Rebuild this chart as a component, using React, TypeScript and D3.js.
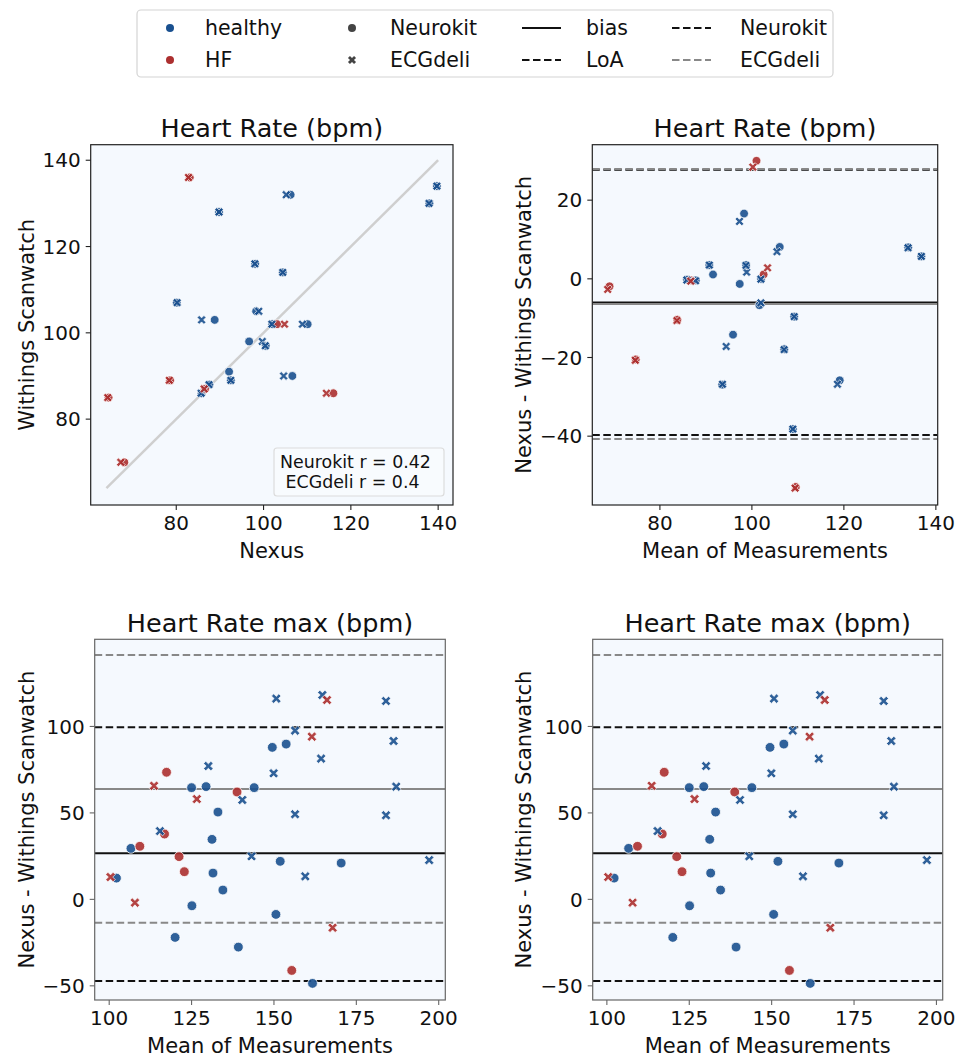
import React from 'react';
import * as d3 from 'd3';

const W = 960;
const H = 1057;
const FONT = "'DejaVu Sans', sans-serif";
const BLUE = '#19508f';
const RED = '#ac2f2f';
const BG = '#f5f9fe';

// Heart Rate: one entry per subject (Withings + Nexus by each method)
const healthyWithings = [132, 128, 130, 134, 116, 114, 107, 103, 105, 102, 102, 98, 97, 91, 89, 90, 88, 86];
const healthyNeurokit = [106.2, 89.8, 138.0, 139.7, 98.1, 104.4, 80.1, 88.8, 98.3, 102.0, 110.1, 96.7, 100.5, 92.1, 92.5, 106.6, 87.6, 85.8];
const healthyEcgdeli = [105.2, 89.8, 137.9, 139.7, 98.0, 104.4, 80.2, 85.8, 98.9, 101.9, 108.9, 99.7, 100.4, null, 92.5, 104.6, 87.5, 85.7];
const hfWithings = [136, 102, 89, 85, 86, 70, 87];
const hfNeurokit = [83.1, 103.1, 78.6, 64.5, 116.0, 68.1, 86.6];
const hfEcgdeli = [82.8, 104.8, 78.4, 64.3, 114.4, 67.3, 86.4];
const corrText = ['Neurokit r = 0.42', ' ECGdeli r = 0.4'];

// bias, upper LoA, lower LoA
const hrNeurokitLines = [-6.0, 27.7, -39.7];
const hrEcgdeliLines = [-6.4, 27.9, -40.7];

// Heart Rate max: [mean, difference]
const maxHealthyNeurokit = [
  [149.5, 87.9], [153.7, 89.8], [125.0, 64.6], [129.4, 65.2], [144.0, 64.6], [133.0, 50.5],
  [131.2, 34.7], [106.6, 29.5], [151.9, 22.0], [170.4, 21.0], [102.2, 12.3], [131.5, 15.2],
  [134.5, 5.4], [125.1, -3.7], [150.6, -8.7], [120.0, -22.0], [139.2, -27.6], [161.7, -48.6],
];
const maxHfNeurokit = [
  [117.4, 73.5], [138.8, 62.1], [116.8, 37.8], [109.3, 30.7], [121.2, 24.7], [122.8, 16.0], [155.4, -41.1],
];
const maxHealthyEcgdeli = [
  [150.7, 116.1], [164.7, 118.2], [184.0, 114.7], [156.4, 97.6], [186.3, 91.6], [164.3, 81.4],
  [130.1, 77.1], [149.9, 72.9], [187.1, 65.2], [140.4, 57.5], [156.4, 49.2], [184.0, 48.6],
  [115.4, 39.5], [143.2, 24.9], [197.1, 22.7], [159.5, 13.3],
];
const maxHfEcgdeli = [
  [166.1, 115.3], [161.5, 94.1], [113.6, 65.7], [126.6, 58.0], [100.4, 12.9], [107.8, -1.9], [167.8, -16.4],
];
const maxNeurokitLines = [26.6, 99.5, -47.2];
const maxEcgdeliLines = [63.8, 141.3, -13.5];

const hrTicks = [80, 100, 120, 140];
const diffTicks = [-40, -20, 0, 20];
const maxXTicks = [100, 125, 150, 175, 200];
const maxYTicks = [-50, 0, 50, 100];

const xPath = (r, t) => {
  const pts = [[t, r], [t, t], [r, t], [r, -t], [t, -t], [t, -r], [-t, -r], [-t, -t], [-r, -t], [-r, t], [-t, t], [-t, r]];
  const s = Math.SQRT1_2;
  return 'M' + pts.map(([x, y]) => `${((x - y) * s).toFixed(2)},${((x + y) * s).toFixed(2)}`).join('L') + 'Z';
};

const fmt = v => String(v).replace('-', '\u2212');

const Dot = ({ cx, cy, color, r }) => (
  <circle cx={cx} cy={cy} r={r} fill={color} fillOpacity={0.9} stroke="#fff" strokeWidth={0.8} />
);
const Cross = ({ cx, cy, color, size }) => (
  <path d={xPath(size, size * 0.3)} transform={`translate(${cx},${cy})`} fill={color} fillOpacity={0.9} stroke="#fff" strokeWidth={0.7} />
);

const Axes = ({ id, box, x, y, xTicks, yTicks, title, xLabel, yLabel, yLabelX, spine, children }) => {
  const { x0, x1, y0, y1 } = box;
  return (
    <g>
      <clipPath id={id}>
        <rect x={x0} y={y0} width={x1 - x0} height={y1 - y0} />
      </clipPath>
      <rect x={x0} y={y0} width={x1 - x0} height={y1 - y0} fill={BG} />
      <g clipPath={`url(#${id})`}>{children}</g>
      <rect x={x0} y={y0} width={x1 - x0} height={y1 - y0} fill="none" stroke={spine} strokeWidth={1.2} />
      {xTicks.map(t => (
        <g key={'x' + t} transform={`translate(${x(t)},0)`}>
          <line y1={y1} y2={y1 + 5} stroke={spine} strokeWidth={1.1} />
          <text y={y1 + 25} textAnchor="middle" fontSize={20} fill="#111">{fmt(t)}</text>
        </g>
      ))}
      {yTicks.map(t => (
        <g key={'y' + t} transform={`translate(0,${y(t)})`}>
          <line x1={x0} x2={x0 - 5} stroke={spine} strokeWidth={1.1} />
          <text x={x0 - 10} dy="0.36em" textAnchor="end" fontSize={20} fill="#111">{fmt(t)}</text>
        </g>
      ))}
      <text x={(x0 + x1) / 2} y={y0 - 7.5} textAnchor="middle" fontSize={25.5} fill="#111">{title}</text>
      <text x={(x0 + x1) / 2} y={y1 + 53} textAnchor="middle" fontSize={21} fill="#111">{xLabel}</text>
      <text transform={`translate(${yLabelX},${(y0 + y1) / 2}) rotate(-90)`} textAnchor="middle" fontSize={21} fill="#111">{yLabel}</text>
    </g>
  );
};

const RefLines = ({ x, y, nk, ecg }) => {
  const [a, b] = x.range();
  const styles = [
    { vals: nk, color: '#111' },
    { vals: ecg, color: '#888' },
  ];
  return (
    <g>
      {styles.map(({ vals, color }) =>
        vals.map((v, i) => (
          <line key={color + i} x1={a} x2={b} y1={y(v)} y2={y(v)} stroke={color} strokeWidth={2}
            strokeDasharray={i === 0 ? null : '7.5,3.5'} />
        ))
      )}
    </g>
  );
};

const BlandAltmanMarks = ({ x, y, nk, ecg, r, size }) => (
  <g>
    {nk.map(([m, d, c], i) => <Dot key={'n' + i} cx={x(m)} cy={y(d)} color={c} r={r} />)}
    {ecg.map(([m, d, c], i) => <Cross key={'e' + i} cx={x(m)} cy={y(d)} color={c} size={size} />)}
  </g>
);

const App = () => {
  const b1 = { x0: 90.7, x1: 453, y0: 144.7, y1: 505 };
  const b2 = { x0: 592.3, x1: 937.7, y0: 144.7, y1: 505 };
  const b3 = { x0: 94.7, x1: 445.3, y0: 639.3, y1: 1000 };
  const b4 = { x0: 592.7, x1: 942.7, y0: 639.3, y1: 1000 };

  const x1s = d3.scaleLinear().domain([60.4, 143.4]).range([b1.x0, b1.x1]);
  const y1s = d3.scaleLinear().domain([60.1, 143.6]).range([b1.y1, b1.y0]);
  const x2s = d3.scaleLinear().domain([65.3, 140.4]).range([b2.x0, b2.x1]);
  const y2s = d3.scaleLinear().domain([-57.5, 34.1]).range([b2.y1, b2.y0]);
  const x3s = d3.scaleLinear().domain([95.6, 202.0]).range([b3.x0, b3.x1]);
  const y3s = d3.scaleLinear().domain([-58.2, 150.4]).range([b3.y1, b3.y0]);
  const x4s = d3.scaleLinear().domain([95.7, 201.9]).range([b4.x0, b4.x1]);
  const y4s = d3.scaleLinear().domain([-58.2, 150.4]).range([b4.y1, b4.y0]);

  // scatter rows: [nexus, withings, color]
  const nkRows = [
    ...healthyNeurokit.map((n, i) => [n, healthyWithings[i], BLUE]),
    ...hfNeurokit.map((n, i) => [n, hfWithings[i], RED]),
  ];
  const ecgRows = [
    ...healthyEcgdeli.map((n, i) => [n, healthyWithings[i], BLUE]),
    ...hfEcgdeli.map((n, i) => [n, hfWithings[i], RED]),
  ].filter(d => d[0] != null);
  const toBA = ([n, w, c]) => [(n + w) / 2, n - w, c];

  const allVals = nkRows.flatMap(d => [d[0], d[1]]);
  const lo = Math.floor(d3.min(allVals));
  const hi = Math.ceil(d3.max(allVals));

  const maxNk = [...maxHealthyNeurokit.map(d => [...d, BLUE]), ...maxHfNeurokit.map(d => [...d, RED])];
  const maxEcg = [...maxHealthyEcgdeli.map(d => [...d, BLUE]), ...maxHfEcgdeli.map(d => [...d, RED])];

  const legendText = { fontSize: 20.5, fill: '#111' };

  return (
    <svg width={W} height={H} style={{ position: 'absolute', left: 0, top: 0, fontFamily: FONT }}>
      <rect width={W} height={H} fill="#fff" />

      {/* legend */}
      <rect x={137} y={10} width={696} height={67} rx={4} fill="#fff" stroke="#d4d4d4" strokeWidth={1.2} />
      <circle cx={170} cy={28} r={4} fill={BLUE} />
      <text x={205} y={35} {...legendText}>healthy</text>
      <circle cx={170} cy={60} r={4} fill={RED} />
      <text x={205} y={67} {...legendText}>HF</text>
      <circle cx={352} cy={28} r={4} fill="#444" />
      <text x={390} y={35} {...legendText}>Neurokit</text>
      <path d={xPath(4.3, 1.4)} transform="translate(352,60)" fill="#444" />
      <text x={390} y={67} {...legendText}>ECGdeli</text>
      <line x1={522} x2={561} y1={28} y2={28} stroke="#111" strokeWidth={2} />
      <text x={586} y={35} {...legendText}>bias</text>
      <line x1={522} x2={561} y1={60} y2={60} stroke="#111" strokeWidth={2} strokeDasharray="7.5,3.5" />
      <text x={586} y={67} {...legendText}>LoA</text>
      <line x1={672} x2={711} y1={28} y2={28} stroke="#111" strokeWidth={2} strokeDasharray="7.5,3.5" />
      <text x={740} y={35} {...legendText}>Neurokit</text>
      <line x1={672} x2={711} y1={60} y2={60} stroke="#888" strokeWidth={2} strokeDasharray="7.5,3.5" />
      <text x={740} y={67} {...legendText}>ECGdeli</text>

      <Axes id="c1" box={b1} x={x1s} y={y1s} xTicks={hrTicks} yTicks={hrTicks} title="Heart Rate (bpm)"
        xLabel="Nexus" yLabel="Withings Scanwatch" yLabelX={34} spine="#222">
        <line x1={x1s(lo)} y1={y1s(lo)} x2={x1s(hi)} y2={y1s(hi)} stroke="#cfcfcf" strokeWidth={2.5} />
        {nkRows.map(([n, w, c], i) => <Dot key={'n' + i} cx={x1s(n)} cy={y1s(w)} color={c} r={4.4} />)}
        {ecgRows.map(([n, w, c], i) => <Cross key={'e' + i} cx={x1s(n)} cy={y1s(w)} color={c} size={4.8} />)}
        <rect x={274} y={448} width={170} height={48} rx={3} fill="#f8fbfe" stroke="#dcdcdc" strokeWidth={1.2} />
        {corrText.map((t, i) => (
          <text key={i} x={280} y={468 + i * 20} fontSize={17.4} fill="#111" style={{ whiteSpace: 'pre' }}>{t}</text>
        ))}
      </Axes>

      <Axes id="c2" box={b2} x={x2s} y={y2s} xTicks={hrTicks} yTicks={diffTicks} title="Heart Rate (bpm)"
        xLabel="Mean of Measurements" yLabel="Nexus - Withings Scanwatch" yLabelX={531} spine="#222">
        <RefLines x={x2s} y={y2s} nk={hrNeurokitLines} ecg={hrEcgdeliLines} />
        <BlandAltmanMarks x={x2s} y={y2s} nk={nkRows.map(toBA)} ecg={ecgRows.map(toBA)} r={4.4} size={4.8} />
      </Axes>

      <Axes id="c3" box={b3} x={x3s} y={y3s} xTicks={maxXTicks} yTicks={maxYTicks} title="Heart Rate max (bpm)"
        xLabel="Mean of Measurements" yLabel="Nexus - Withings Scanwatch" yLabelX={34} spine="#666">
        <RefLines x={x3s} y={y3s} nk={maxNeurokitLines} ecg={maxEcgdeliLines} />
        <BlandAltmanMarks x={x3s} y={y3s} nk={maxNk} ecg={maxEcg} r={4.9} size={5.2} />
      </Axes>

      <Axes id="c4" box={b4} x={x4s} y={y4s} xTicks={maxXTicks} yTicks={maxYTicks} title="Heart Rate max (bpm)"
        xLabel="Mean of Measurements" yLabel="Nexus - Withings Scanwatch" yLabelX={531} spine="#666">
        <RefLines x={x4s} y={y4s} nk={maxNeurokitLines} ecg={maxEcgdeliLines} />
        <BlandAltmanMarks x={x4s} y={y4s} nk={maxNk} ecg={maxEcg} r={4.9} size={5.2} />
      </Axes>
    </svg>
  );
};

export default App;
